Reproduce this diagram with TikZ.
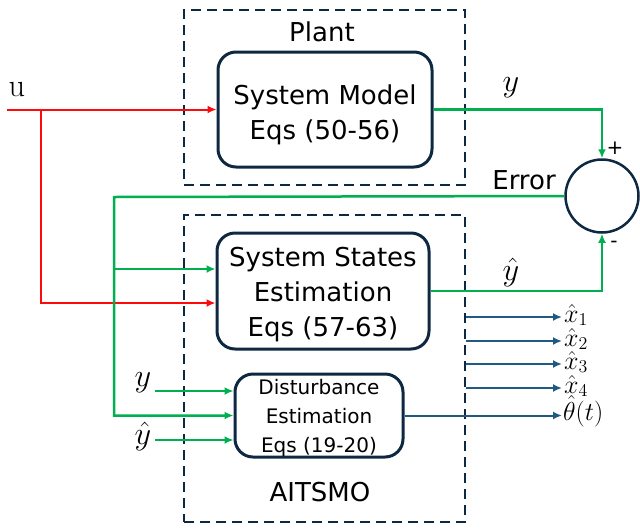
\RequirePackage{fix-cm}
\documentclass[tikz,border=0pt]{standalone}
\usepackage[no-math]{fontspec}
\setmainfont{DejaVu Sans}
\usetikzlibrary{positioning,calc,arrows.meta}

\definecolor{navy}{RGB}{14,40,65}
\definecolor{sigred}{RGB}{255,10,10}
\definecolor{siggreen}{RGB}{0,176,80}
\definecolor{sigblue}{RGB}{31,90,130}

% math labels drawn a bit larger than the math font sizes allow
\newcommand{\biglbl}[1]{\scalebox{1.3}{$#1$}}
\newcommand{\outlbl}[1]{\scalebox{1.25}{$#1$}}

\begin{document}
\begin{tikzpicture}[
    x=1pt, y=-1pt,
    every node/.style={font=\fontsize{26}{35}\selectfont, inner sep=0pt},
    block/.style={rectangle, draw=navy, line width=3pt, rounded corners=18pt},
    blocktext/.style={align=center},
    frame/.style={rectangle, draw=navy, line width=2.5pt,
                  dash pattern=on 10pt off 6pt},
    redline/.style={sigred, line width=2pt},
    greenline/.style={siggreen, line width=2.5pt},
    blueline/.style={sigblue, line width=2pt},
    tip/.style={-{Latex[length=9pt,width=8pt]}},
    sign/.style={font=\fontsize{20}{20}\selectfont},
    mlabel/.style={font=\fontsize{24.88}{26}\selectfont},
    olabel/.style={anchor=west, font=\fontsize{20.74}{22}\selectfont},
]
\useasboundingbox (0,0) rectangle (640,528);

% dashed frames
\node[frame, minimum width=281, minimum height=175] (plant) at (324.5,97.5) {};
\node[frame, minimum width=281, minimum height=307] (aitsmo) at (324.5,368.5) {};
\node (plantlbl) at (322,32) {Plant};
\node (aitsmolbl) at (320,492) {AITSMO};

% blocks
\node[block, minimum width=214, minimum height=115] (sysmodel) at (325,109.5) {};
\node[blocktext] (sysmodeltxt) at (325,115) {System Model\\Eqs (50-56)};
\node[block, minimum width=212, minimum height=116] (states) at (323,291) {};
\node[blocktext] (statestxt) at (323,295) {System States\\Estimation\\Eqs (57-63)};
\node[block, minimum width=168, minimum height=83] (dist) at (319,415.5) {};
\node[blocktext, font=\fontsize{20}{29}\selectfont] (disttxt) at (319,418)
    {Disturbance\\Estimation\\Eqs (19-20)};
\node[circle, draw=navy, line width=2.5pt, minimum size=73] (sum) at (602,196) {};

% input u
\coordinate (uin) at (7,109.5);
\node[mlabel] (ulbl) at (17,90) {\biglbl{\mathrm{u}}};
\coordinate (usplit) at (41,109.5);
\draw[redline, tip] (uin) -- (sysmodel.west);
\draw[redline, tip] (usplit) |- ([yshift=-12pt]states.west);

% measured output and estimate into the sum
\draw[greenline, tip] (sysmodel.east) -| (sum.north);
\node[mlabel] (ylbl) at (511,88) {\biglbl{y}};
\node[sign] (plus) at (615,148) {+};
\draw[greenline, tip] (states.east) -| (sum.south);
\node[mlabel] (yhlbl) at (511,272) {\biglbl{\hat{y}}};
\node[sign] (minus) at (614,244) {-};

% error feedback
\node (errlbl) at (524,180) {Error};
\coordinate (ebend) at (114,197);
\draw[greenline, tip] (sum.west) -- (ebend) |- (dist.west);
\draw[greenline, tip] (ebend |- 0,269) -- (states.west |- 0,269);

% extra inputs to the disturbance block
\node[mlabel] (yin) at (143,383) {\biglbl{y}};
\node[mlabel] (yhin) at (143,436) {\biglbl{\hat{y}}};
\draw[greenline, tip] (155,391) -- (dist.west |- 0,391);
\draw[greenline, tip] (155,440) -- (dist.west |- 0,440);

% estimated states
\foreach \i/\yy in {1/317,2/341,3/364,4/388}{
  \node[olabel] (xh\i) at (564,\yy-2) {\outlbl{\hat{x}_\i}};
  \draw[blueline, tip] (aitsmo.east |- 0,\yy) -- (562,\yy);
}
\node[olabel] (thlbl) at (563,411) {\outlbl{\hat{\theta}(t)}};
\draw[blueline, tip] (dist.east) -- (562,415.5);
\end{tikzpicture}
\end{document}
